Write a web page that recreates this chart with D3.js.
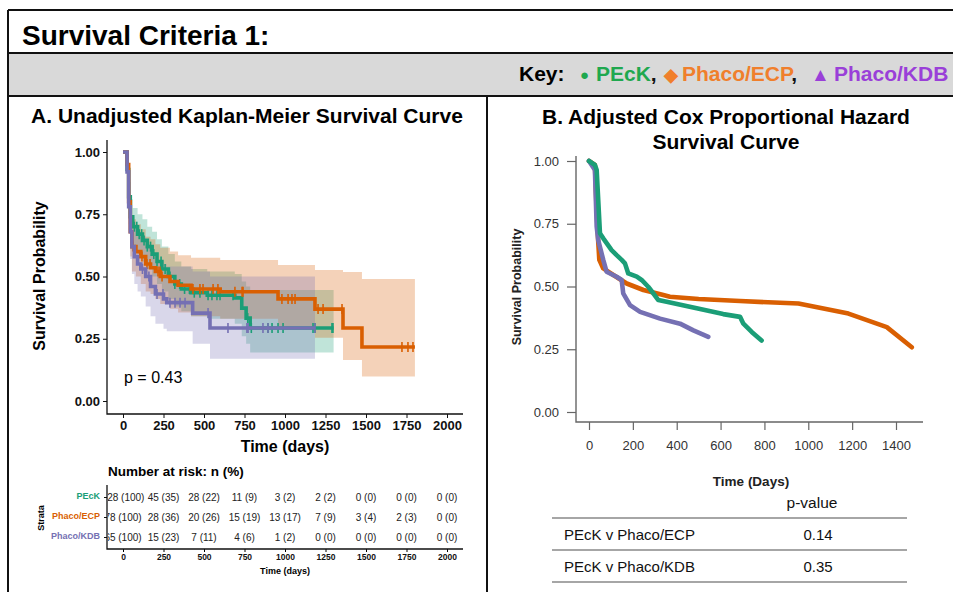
<!DOCTYPE html>
<html>
<head>
<meta charset="utf-8">
<script src="https://cdn.jsdelivr.net/npm/d3@7"></script>
<style>
  body { margin: 0; background: #fff; }
  svg { display: block; font-family: "Liberation Sans", Arial, sans-serif; }
</style>
</head>
<body>
<svg id="chart" width="953" height="592"></svg>
<script>
// groups and colours
var groups = ["PEcK", "Phaco/ECP", "Phaco/KDB"];
var lineColors = ["#1B9E77", "#D95F02", "#7570B3"];
var keyColors = ["#1fa84f", "#f07f2c", "#9a3fd8"];
var keySymbols = ["\u25CF", "\u25C6", "\u25B2"];

// Kaplan-Meier steps: [time, surv, lower, upper]
var kmPEcK = [[0,1,1,1],[25,0.93,0.89,0.97],[35,0.82,0.75,0.88],[45,0.74,0.66,0.81],
  [60,0.70,0.62,0.775],[90,0.67,0.59,0.75],[120,0.645,0.56,0.73],[150,0.62,0.53,0.70],
  [180,0.59,0.50,0.68],[210,0.56,0.47,0.65],[240,0.53,0.44,0.62],[280,0.50,0.41,0.59],
  [320,0.47,0.38,0.56],[360,0.45,0.36,0.54],[420,0.435,0.34,0.53],[520,0.425,0.33,0.52],
  [690,0.414,0.31,0.51],[733,0.373,0.26,0.48],[760,0.333,0.23,0.46],[785,0.293,0.195,0.446]];
var kmECP = [[0,1,1,1],[25,0.95,0.90,0.99],[35,0.80,0.71,0.89],[45,0.68,0.58,0.78],
  [55,0.62,0.52,0.73],[80,0.60,0.50,0.71],[110,0.58,0.47,0.69],[140,0.55,0.44,0.66],
  [170,0.535,0.43,0.65],[200,0.52,0.41,0.63],[230,0.50,0.39,0.615],[290,0.48,0.37,0.60],
  [340,0.465,0.355,0.585],[420,0.45,0.34,0.575],[600,0.439,0.33,0.566],[957,0.41,0.30,0.546],
  [1185,0.369,0.254,0.526],[1358,0.293,0.165,0.518],[1475,0.217,0.098,0.49]];
var kmKDB = [[0,1,1,1],[25,0.92,0.86,0.98],[35,0.78,0.68,0.88],[45,0.68,0.57,0.79],
  [55,0.62,0.51,0.74],[70,0.58,0.47,0.71],[90,0.55,0.44,0.68],[110,0.53,0.42,0.66],
  [140,0.50,0.38,0.63],[170,0.46,0.34,0.59],[200,0.43,0.31,0.56],[250,0.41,0.29,0.55],
  [270,0.395,0.28,0.54],[430,0.353,0.23,0.52],[537,0.293,0.17,0.50]];
var kmEnd = [1300, 1802, 1185];

// censoring times
var censorPEcK = [70,85,100,115,130,150,170,190,210,235,260,290,320,350,380,410,440,475,
  525,549,580,599,679,770,792,895,920,957,988,1173,1185,1290,1296];
var censorECP = [62,117,148,167,216,228,241,432,475,494,556,586,691,735,741,981,1019,
  1043,1062,1204,1235,1352,1722,1759,1790];
var censorKDB = [120,160,210,247,290,321,352,383,525,648,765,772,864,895,1185];

// number at risk
var riskTimes = [0,250,500,750,1000,1250,1500,1750,2000];
var riskPEcK = ["128 (100)","45 (35)","28 (22)","11 (9)","3 (2)","2 (2)","0 (0)","0 (0)","0 (0)"];
var riskECP = ["78 (100)","28 (36)","20 (26)","15 (19)","13 (17)","7 (9)","3 (4)","2 (3)","0 (0)"];
var riskKDB = ["65 (100)","15 (23)","7 (11)","4 (6)","1 (2)","0 (0)","0 (0)","0 (0)","0 (0)"];

// adjusted Cox curves: [time, surv]
var coxPEcK = [[0,1.0],[27,0.984],[35,0.964],[50,0.712],[65,0.692],[103,0.645],[126,0.625],
  [149,0.606],[164,0.592],[179,0.552],[218,0.539],[240,0.526],[270,0.499],[293,0.473],
  [316,0.446],[354,0.439],[491,0.413],[612,0.390],[689,0.379],[704,0.352],[742,0.319],[787,0.285]];
var coxECP = [[0,1.0],[27,0.984],[35,0.80],[42,0.68],[47,0.606],[65,0.572],[111,0.546],
  [172,0.512],[248,0.486],[339,0.466],[369,0.459],[500,0.45],[689,0.442],[955,0.432],
  [1183,0.392],[1358,0.338],[1472,0.258]];
var coxKDB = [[0,1.0],[27,0.964],[35,0.739],[42,0.685],[65,0.606],[80,0.559],[126,0.539],
  [149,0.526],[156,0.473],[187,0.426],[233,0.399],[324,0.372],[415,0.352],[476,0.325],[544,0.299]];

var yTicks = [0, 0.25, 0.5, 0.75, 1];
var xTicksA = [0,250,500,750,1000,1250,1500,1750,2000];
var xTicksB = [0,200,400,600,800,1000,1200,1400];
var pRows = ["PEcK v Phaco/ECP", "PEcK v Phaco/KDB"];
var pVals = ["0.14", "0.35"];

var svg = d3.select("#chart");
var fmt = d3.format(".2f");

// ---- frame and header
svg.append("rect").attr("x", 8).attr("y", 53).attr("width", 945).attr("height", 43)
  .attr("fill", "#d9d9d9");
var frame = [[8,10,953,10],[8,10,8,592],[8,53,953,53],[8,96,953,96],[487,96,487,592]];
svg.selectAll(".frame").data(frame).enter().append("line")
  .attr("x1", function (d) { return d[0]; }).attr("y1", function (d) { return d[1]; })
  .attr("x2", function (d) { return d[2]; }).attr("y2", function (d) { return d[3]; })
  .attr("stroke", "#111").attr("stroke-width", 2);

svg.append("text").attr("x", 22).attr("y", 45).attr("font-size", 28)
  .attr("font-weight", "bold").text("Survival Criteria 1:");

var key = svg.append("text").attr("y", 81).attr("font-size", 21).attr("font-weight", "bold");
key.append("tspan").attr("x", 519).text("Key:");
var keyX = [[580, 596], [664, 682], [811, 834]];
var symSize = [15, 18, 19];
groups.forEach(function (g, i) {
  key.append("tspan").attr("x", keyX[i][0]).attr("fill", keyColors[i])
    .attr("font-size", symSize[i]).attr("dy", i === 0 ? -1 : 0).text(keySymbols[i]);
  key.append("tspan").attr("x", keyX[i][1]).attr("dy", i === 0 ? 1 : 0)
    .attr("fill", keyColors[i]).text(g);
  if (i < 2) key.append("tspan").attr("fill", "#111").text(",");
});

// ---- panel A: Kaplan-Meier
var xA = d3.scaleLinear().domain([0, 2000]).range([123, 447]);
var yA = d3.scaleLinear().domain([0, 1]).range([401, 152]);

svg.append("text").attr("x", 247).attr("y", 123).attr("text-anchor", "middle")
  .attr("font-size", 21).attr("font-weight", "bold")
  .text("A. Unadjusted Kaplan-Meier Survival Curve");

var km = [kmPEcK, kmECP, kmKDB];
var censors = [censorPEcK, censorECP, censorKDB];

function withEnd(rows, end) {
  var last = rows[rows.length - 1];
  return rows.concat([[end, last[1], last[2], last[3]]]);
}

var band = d3.area().curve(d3.curveStepAfter)
  .x(function (d) { return xA(d[0]); })
  .y0(function (d) { return yA(d[2]); })
  .y1(function (d) { return yA(d[3]); });
var step = d3.line().curve(d3.curveStepAfter)
  .x(function (d) { return xA(d[0]); })
  .y(function (d) { return yA(d[1]); });

km.forEach(function (rows, i) {
  svg.append("path").attr("d", band(withEnd(rows, kmEnd[i])))
    .attr("fill", lineColors[i]).attr("fill-opacity", 0.28);
});
km.forEach(function (rows, i) {
  svg.append("path").attr("d", step(withEnd(rows, kmEnd[i])))
    .attr("fill", "none").attr("stroke", lineColors[i]).attr("stroke-width", 3.6);
  var bis = d3.bisector(function (d) { return d[0]; }).right;
  svg.append("g").selectAll("line").data(censors[i]).enter().append("line")
    .attr("x1", function (t) { return xA(t); }).attr("x2", function (t) { return xA(t); })
    .attr("y1", function (t) { return yA(rows[bis(rows, t) - 1][1]) - 5; })
    .attr("y2", function (t) { return yA(rows[bis(rows, t) - 1][1]) + 5; })
    .attr("stroke", lineColors[i]).attr("stroke-width", 1.6);
});

var axA = svg.append("g").attr("transform", "translate(107,0)")
  .call(d3.axisLeft(yA).tickValues(yTicks).tickFormat(fmt).tickSize(4).tickPadding(3));
var axAx = svg.append("g").attr("transform", "translate(0,414)")
  .call(d3.axisBottom(xA).tickValues(xTicksA).tickFormat(d3.format("d")).tickSize(4).tickPadding(3));
[axA, axAx].forEach(function (g) {
  g.select(".domain").remove();
  g.selectAll("text").attr("font-size", 13).attr("font-weight", "bold")
    .attr("font-family", "Liberation Sans, Arial, sans-serif").attr("fill", "#111");
  g.selectAll("line").attr("stroke", "#111");
});
svg.append("path").attr("d", "M107,140V414H463").attr("fill", "none")
  .attr("stroke", "#111").attr("stroke-width", 1.3);

svg.append("text").attr("transform", "translate(45,276) rotate(-90)")
  .attr("text-anchor", "middle").attr("font-size", 16).attr("font-weight", "bold")
  .text("Survival Probability");
svg.append("text").attr("x", 285).attr("y", 452).attr("text-anchor", "middle")
  .attr("font-size", 16).attr("font-weight", "bold").text("Time (days)");
svg.append("text").attr("x", 124).attr("y", 383).attr("font-size", 16).text("p = 0.43");

// ---- number at risk table
var riskRows = [riskPEcK, riskECP, riskKDB];
var rowY = [497.5, 517.5, 537.5];

svg.append("text").attr("x", 108).attr("y", 476).attr("font-size", 13.5)
  .attr("font-weight", "bold").text("Number at risk: n (%)");

svg.append("clipPath").attr("id", "riskclip").append("rect")
  .attr("x", 108).attr("y", 480).attr("width", 845).attr("height", 70);
var risk = svg.append("g").attr("clip-path", "url(#riskclip)");
riskRows.forEach(function (row, i) {
  risk.selectAll(".r" + i).data(row).enter().append("text")
    .attr("x", function (d, j) { return xA(riskTimes[j]); })
    .attr("y", rowY[i] + 3.5).attr("text-anchor", "middle")
    .attr("font-size", 10).attr("fill", "#222").text(function (d) { return d; });
});
groups.forEach(function (g, i) {
  svg.append("text").attr("x", 100).attr("y", rowY[i] + 1).attr("text-anchor", "end")
    .attr("font-size", 9).attr("font-weight", "bold").attr("fill", lineColors[i]).text(g);
  svg.append("line").attr("x1", 104).attr("x2", 107).attr("y1", rowY[i]).attr("y2", rowY[i])
    .attr("stroke", "#111");
});
var axR = svg.append("g").attr("transform", "translate(0,549)")
  .call(d3.axisBottom(xA).tickValues(riskTimes).tickFormat(d3.format("d")).tickSize(3).tickPadding(2));
axR.select(".domain").remove();
axR.selectAll("text").attr("font-size", 8.5).attr("font-weight", "bold")
  .attr("font-family", "Liberation Sans, Arial, sans-serif").attr("fill", "#111");
svg.append("path").attr("d", "M107,485V549H463").attr("fill", "none")
  .attr("stroke", "#111").attr("stroke-width", 1.3);
svg.append("text").attr("x", 285).attr("y", 574).attr("text-anchor", "middle")
  .attr("font-size", 9).attr("font-weight", "bold").text("Time (days)");
svg.append("text").attr("transform", "translate(44,518) rotate(-90)")
  .attr("text-anchor", "middle").attr("font-size", 9).attr("font-weight", "bold").text("Strata");

// ---- panel B: adjusted Cox curves
var xB = d3.scaleLinear().domain([0, 1400]).range([589, 896]);
var yB = d3.scaleLinear().domain([0, 1]).range([412, 161]);

var tB = svg.append("text").attr("text-anchor", "middle").attr("font-size", 21)
  .attr("font-weight", "bold");
tB.append("tspan").attr("x", 726).attr("y", 124).text("B. Adjusted Cox Proportional Hazard");
tB.append("tspan").attr("x", 726).attr("y", 149).text("Survival Curve");

var axB = svg.append("g").attr("transform", "translate(576,0)")
  .call(d3.axisLeft(yB).tickValues(yTicks).tickFormat(fmt).tickSize(9).tickPadding(8));
var axBx = svg.append("g").attr("transform", "translate(0,422)")
  .call(d3.axisBottom(xB).tickValues(xTicksB).tickFormat(d3.format("d")).tickSize(8).tickPadding(11));
[axB, axBx].forEach(function (g) {
  g.select(".domain").remove();
  g.selectAll("text").attr("font-size", 13)
    .attr("font-family", "Liberation Sans, Arial, sans-serif").attr("fill", "#333");
  g.selectAll("line").attr("stroke", "#666").attr("stroke-width", 1.2);
});
svg.append("path").attr("d", "M576,156V422H923").attr("fill", "none")
  .attr("stroke", "#666").attr("stroke-width", 1.4);

var coxLine = d3.line()
  .x(function (d) { return xB(d[0]); })
  .y(function (d) { return yB(d[1]); });
var cox = [coxECP, coxKDB, coxPEcK];
var coxCol = [lineColors[1], lineColors[2], lineColors[0]];
cox.forEach(function (rows, i) {
  svg.append("path").attr("d", coxLine(rows)).attr("fill", "none")
    .attr("stroke", coxCol[i]).attr("stroke-width", 4.6)
    .attr("stroke-linejoin", "round").attr("stroke-linecap", "round");
});

svg.append("text").attr("transform", "translate(521,287) rotate(-90)")
  .attr("text-anchor", "middle").attr("font-size", 12.5).attr("font-weight", "bold")
  .attr("fill", "#222").text("Survival Probability");
svg.append("text").attr("x", 751).attr("y", 486).attr("text-anchor", "middle")
  .attr("font-size", 13.5).attr("font-weight", "bold").attr("fill", "#222").text("Time (Days)");

// ---- p-value table
svg.append("text").attr("x", 812).attr("y", 508).attr("text-anchor", "middle")
  .attr("font-size", 15.5).attr("fill", "#111").text("p-value");
[518, 550, 582].forEach(function (y) {
  svg.append("line").attr("x1", 552).attr("x2", 907).attr("y1", y).attr("y2", y)
    .attr("stroke", "#888").attr("stroke-width", 1.6);
});
pRows.forEach(function (r, i) {
  svg.append("text").attr("x", 564).attr("y", 540 + i * 32).attr("font-size", 15)
    .attr("fill", "#111").text(r);
  svg.append("text").attr("x", 818).attr("y", 540 + i * 32).attr("text-anchor", "middle")
    .attr("font-size", 15).attr("fill", "#111").text(pVals[i]);
});
</script>
</body>
</html>
